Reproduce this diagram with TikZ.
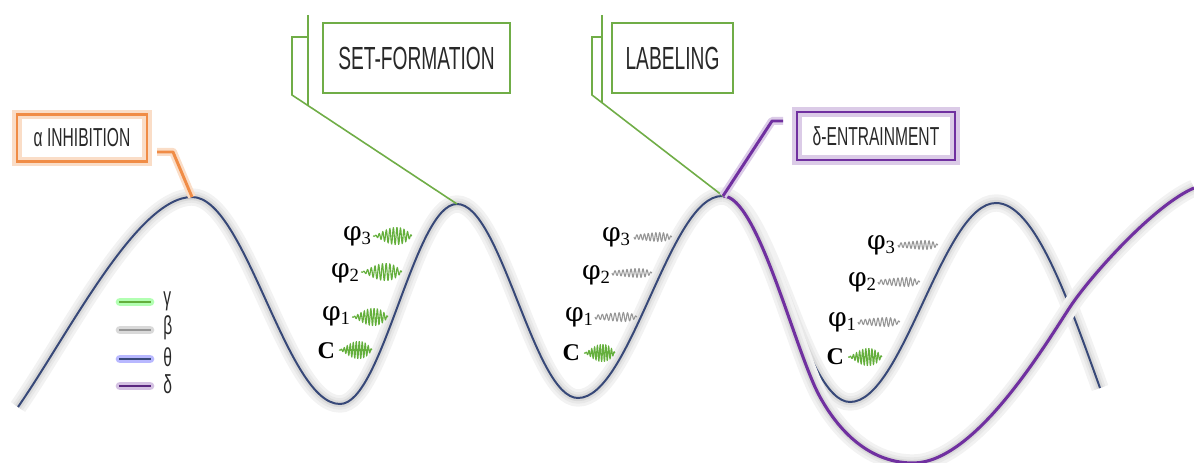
\documentclass[tikz,border=0pt]{standalone}
\usepackage{fontspec}
\newfontfamily\labfont{Liberation Sans}[FakeStretch=0.6]
\newfontfamily\serfont{Liberation Serif}
\newfontfamily\phifont{DejaVu Serif}
\usetikzlibrary{calc}
\definecolor{thetaC}{RGB}{55,72,120}
\definecolor{deltaC}{RGB}{112,48,160}
\definecolor{orangeC}{RGB}{240,140,70}
\definecolor{greenC}{RGB}{112,173,71}
\definecolor{wgreen}{RGB}{100,175,60}
\definecolor{wgray}{RGB}{150,150,150}
\definecolor{txtC}{RGB}{40,40,40}
\tikzset{
  glowgray/.style={preaction={draw=black!5,line width=13pt},preaction={draw=black!9,line width=8.5pt},preaction={draw=black!15,line width=4.8pt}},
  thetaline/.style={glowgray,draw=thetaC,line width=1.5pt},
  deltaline/.style={glowgray,draw=deltaC,line width=2.3pt},
  bigbox/.style={draw=greenC,line width=1.6pt,font=\labfont\fontsize{24}{26}\selectfont,text=txtC,minimum height=52.5pt,inner sep=0pt},
  obox/.style={draw=orangeC,line width=2.2pt,preaction={draw=orangeC!30,line width=7pt},font=\labfont\fontsize{19.5}{22}\selectfont,text=txtC,minimum width=97.5pt,minimum height=35.25pt,inner sep=0pt},
  pbox/.style={draw=deltaC,line width=2.2pt,preaction={draw=deltaC!25,line width=7pt},font=\labfont\fontsize{19.5}{22}\selectfont,text=txtC,minimum width=118.5pt,minimum height=36pt,inner sep=0pt},
  gline/.style={draw=greenC,line width=1.2pt},
  oline/.style={draw=orangeC,line width=2.2pt,line join=round,preaction={draw=orangeC!30,line width=6pt,line join=round}},
  pline/.style={draw=deltaC,line width=2.2pt,line join=round,preaction={draw=deltaC!25,line width=6pt,line join=round}},
  phil/.style={anchor=east,inner sep=0.5pt,font=\serfont\fontsize{20}{24}\selectfont},
  cl/.style={anchor=east,inner sep=0.5pt,font=\serfont\bfseries\fontsize{18}{20}\selectfont},
  legtext/.style={anchor=west,inner sep=0pt,font=\labfont\fontsize{19.5}{22}\selectfont,text=txtC},
}
\newcommand\phs[1]{{\phifont φ}\raisebox{-3.2pt}{\fontsize{14}{14}\selectfont #1}}
\newcommand\gwave[3]{\draw[wgreen,line width=0.85pt] plot[domain=0:1,samples=220] ({#1+(#2-#1)*\x},{#3+8.5*(\x*sqrt(\x)*(1-\x)/0.186)*sin(\x*3960)});}
\newcommand\ywave[3]{\draw[wgray,line width=0.8pt] plot[domain=0:1,samples=220] ({#1+(#2-#1)*\x},{#3+6.3*(0.3+0.7*\x)*(1-\x^6)*sin(\x*3600)});}
\begin{document}
\begin{tikzpicture}[x=0.75pt,y=-0.75pt]
\useasboundingbox (0,0) rectangle (1194,463);
\coordinate (pk1) at (192,197);
\coordinate (pk2) at (457,204);
\coordinate (pk3) at (723,196);
\begin{scope}
\clip (0,0) rectangle (1194,463);
% theta
\draw[thetaline] (18,407) .. controls (68,335) and (137,197) .. (192,197)
  cos (266,300.5) sin (340,404) cos (398.5,304) sin (457,204)
  cos (517.5,301) sin (578,398) cos (650,297) sin (722,196)
  cos (786,299) sin (850,402) cos (923,302.5) sin (996,203) cos (1100,388);
% delta
\draw[deltaline] (pk3) .. controls (758,196) and (795,352) .. (820,397)
  .. controls (845,442) and (878,463) .. (913,463)
  .. controls (975,463) and (1045,345) .. (1070,307)
  .. controls (1090,276.6) and (1154,205) .. (1194,188);
\end{scope}

% boxes
\node[obox] (alpha) at (82,138) {α INHIBITION};
\node[bigbox,minimum width=140.25pt] (setf) at (416.5,58) {SET-FORMATION};
\node[bigbox,minimum width=90.75pt] (lab) at (672.5,58) {LABELING};
\node[pbox] (delta) at (876,136) {δ-ENTRAINMENT};

% callouts
\coordinate (a1) at (157,152);
\coordinate (a2) at (173,152);
\draw[oline] (a1) -- (a2) -- (pk1);
\coordinate (s1) at (308,15);
\coordinate (s2) at (308,105);
\coordinate (s3) at (308,37);
\coordinate (s4) at (292,37);
\coordinate (s5) at (292,95);
\draw[gline] (s1) -- (s2);
\draw[gline] (s3) -- (s4) -- (s5) -- (pk2);
\coordinate (l1) at (602,15);
\coordinate (l2) at (602,103);
\coordinate (l3) at (602,37);
\coordinate (l4) at (592,37);
\coordinate (l5) at (592,95);
\draw[gline] (l1) -- (l2);
\draw[gline] (l3) -- (l4) -- (l5) -- (pk3);
\coordinate (d1) at (783,121);
\coordinate (d2) at (772,121);
\draw[pline] (d1) -- (d2) -- (pk3);

% legend
\draw[green!30!white,line width=6.5pt,line cap=round] (120,302) -- (150,302);
\draw[wgreen,line width=0.8pt] (119,302) -- (151,302);
\draw[black!15,line width=6.5pt,line cap=round] (120,330) -- (150,330);
\draw[wgray,line width=0.8pt] (119,330) -- (151,330);
\draw[blue!28!white,line width=6.5pt,line cap=round] (120,359) -- (150,359);
\draw[thetaC,line width=0.9pt] (119,359) -- (151,359);
\draw[deltaC!30!white,line width=6.5pt,line cap=round] (120,386) -- (150,386);
\draw[deltaC!80!black,line width=0.9pt] (119,386) -- (151,386);
\node[legtext] (lg1) at (163,301) {γ};
\node[legtext] (lg2) at (163,328) {β};
\node[legtext] (lg3) at (163,357) {θ};
\node[legtext] (lg4) at (163,384) {δ};

% group 1
\node[phil] (g1a) at (372,236) {\phs{3}};
\node[phil] (g1b) at (360,273) {\phs{2}};
\node[phil] (g1c) at (351,316) {\phs{1}};
\node[cl] (g1d) at (336,351) {C};
\gwave{373}{412}{236}
\gwave{361}{402}{272}
\gwave{352}{388}{317}
\gwave{339}{372}{350}
% group 2
\node[phil] (g2a) at (631,237) {\phs{3}};
\node[phil] (g2b) at (611,275) {\phs{2}};
\node[phil] (g2c) at (594,317) {\phs{1}};
\node[cl] (g2d) at (581,353) {C};
\ywave{634}{672}{237}
\ywave{612}{652}{273}
\ywave{595}{637}{317}
\gwave{584}{615}{353}
% group 3
\node[phil] (g3a) at (896,245) {\phs{3}};
\node[phil] (g3b) at (877,282) {\phs{2}};
\node[phil] (g3c) at (857,322) {\phs{1}};
\node[cl] (g3d) at (845,357) {C};
\ywave{898}{938}{245}
\ywave{878}{920}{282}
\ywave{858}{900}{322}
\gwave{848}{882}{357}
\end{tikzpicture}
\end{document}
